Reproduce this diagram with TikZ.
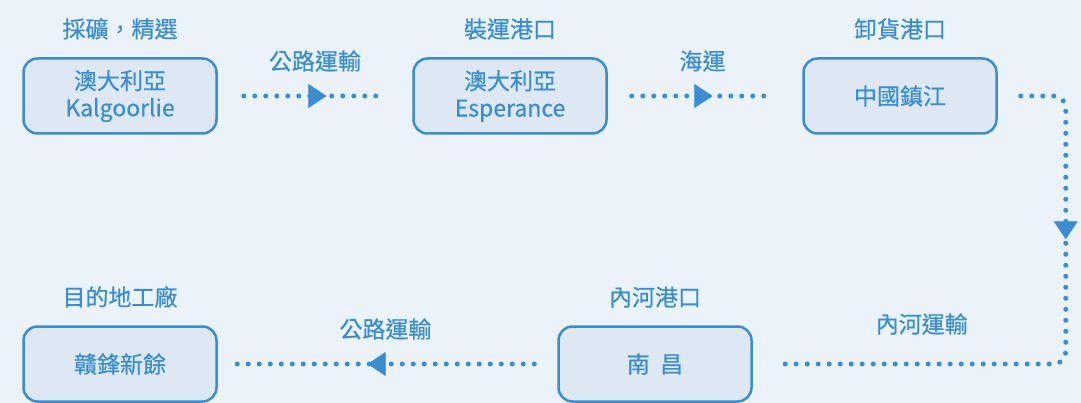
\documentclass[tikz,border=0pt]{standalone}
\usepackage{fontspec}
\setmainfont{Noto Sans CJK TC}[FakeBold=0.6]
\usetikzlibrary{positioning,arrows.meta,decorations.markings}

\definecolor{bgblue}{HTML}{EAF2FA}
\definecolor{boxfill}{HTML}{DEE8F5}
\definecolor{lineblue}{HTML}{3A8ED0}

\tikzset{
  stop/.style={draw=lineblue, fill=boxfill, line width=2.5pt, rounded corners=14pt,
    minimum width=193pt, minimum height=75pt, text=lineblue, align=center,
    font=\fontsize{23}{27}\selectfont},
  head/.style={text=lineblue, font=\fontsize{23}{27}\selectfont},
  route/.style={lineblue, line width=5pt, line cap=round, dash pattern=on 0pt off 11pt},
  midtip/.style={decoration={markings, mark=at position #1 with
    {\arrow{Triangle[length=18pt,width=24pt,line width=0.5pt]}}}, postaction=decorate},
}

\begin{document}
\begin{tikzpicture}[x=1pt,y=-1pt]
\fill[bgblue] (0,0) rectangle (1081,403);
\useasboundingbox (0,0) rectangle (1081,403);

% stations
\node[stop] (kal) at (120,96) {澳大利亞\\Kalgoorlie};
\node[stop] (esp) at (510,96) {澳大利亞\\Esperance};
\node[stop] (zhen) at (900,96) {中國鎮江};
\node[stop] (nanc) at (655,364) {南\hspace{0.45em}昌};
\node[stop] (ganf) at (120,364) {贛鋒新餘};

% titles
\node[head, above=14pt of kal] (kalhead) {採礦，精選};
\node[head, above=14pt of esp] (esphead) {裝運港口};
\node[head, above=14pt of zhen] (zhenhead) {卸貨港口};
\node[head, above=14pt of nanc] (nanchead) {內河港口};
\node[head, above=14pt of ganf] (ganfhead) {目的地工廠};

% routes
\draw[route, midtip=0.58] ([xshift=26pt]kal.east) -- node[head, yshift=35pt] (road1) {公路運輸} ([xshift=-26pt]esp.west);
\draw[route, midtip=0.57] ([xshift=24pt]esp.east) -- node[head, yshift=35pt] (sea) {海運} ([xshift=-29pt]zhen.west);
\draw[route, midtip=0.31, rounded corners=12pt] ([xshift=23pt]zhen.east) -| ([xshift=313pt]nanc.east)
  -- node[head, yshift=40pt] (river) {內河運輸} ([xshift=25pt]nanc.east);
\draw[route, midtip=0.56] ([xshift=-23pt]nanc.west) -- node[head, yshift=35pt] (road2) {公路運輸} ([xshift=19pt]ganf.east);
\end{tikzpicture}
\end{document}
